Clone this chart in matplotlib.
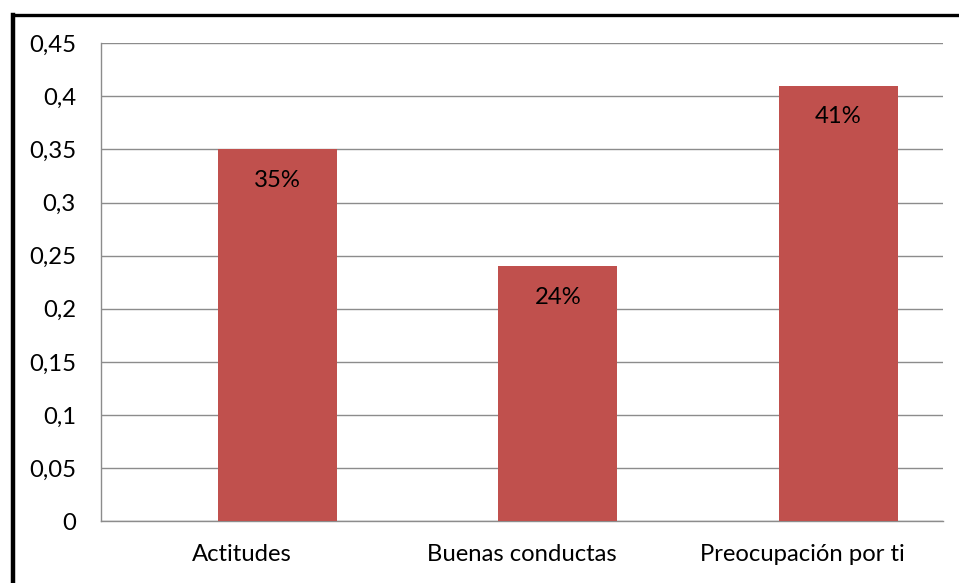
import matplotlib.pyplot as plt
from matplotlib.lines import Line2D
from matplotlib.ticker import FuncFormatter
import numpy as np

categories = ["Actitudes", "Buenas conductas", "Preocupación por ti"]
values = [0.35, 0.24, 0.41]
labels = ["35%", "24%", "41%"]
y_ticks = [0, 0.05, 0.1, 0.15, 0.2, 0.25, 0.3, 0.35, 0.4, 0.45]

BAR_COLOR = "#C0504D"
GRID_COLOR = "#8C8C8C"
FS = 17.2

plt.rcParams["font.family"] = ["Lato", "DejaVu Sans"]

fig = plt.figure(figsize=(9.59, 5.83), dpi=100)
ax = fig.add_axes([0.1053, 0.1055, 0.8780, 0.8207])

x = np.arange(len(categories))
# bars sit slightly right of the category centre, as in the original
bars = ax.bar(x + 0.128, values, width=0.424, color=BAR_COLOR, zorder=3)

for bar, lab in zip(bars, labels):
    ax.annotate(lab, (bar.get_x() + bar.get_width() / 2, bar.get_height()),
                xytext=(0, -31), textcoords="offset pixels",
                ha="center", va="center", fontsize=FS, color="black", zorder=4)

ax.set_xlim(-0.5, 2.5)
ax.set_ylim(0, 0.45)
ax.set_xticks(x)
ax.set_xticklabels(categories, fontsize=FS)
ax.set_yticks(y_ticks)
ax.yaxis.set_major_formatter(FuncFormatter(lambda v, p: f"{v:g}".replace(".", ",")))
ax.tick_params(axis="y", length=0, pad=18, labelsize=FS)
ax.tick_params(axis="x", length=0, pad=16)

ax.grid(axis="y", color=GRID_COLOR, linewidth=1, zorder=0)
for side in ["top", "right"]:
    ax.spines[side].set_visible(False)
for side in ["left", "bottom"]:
    ax.spines[side].set_color(GRID_COLOR)
    ax.spines[side].set_linewidth(1)

# black frame on the left and top edges
fig.add_artist(Line2D([12.5 / 959, 12.5 / 959], [0, 1 - 14.5 / 583],
                      color="black", linewidth=3.2, solid_capstyle="projecting"))
fig.add_artist(Line2D([12.5 / 959, 1], [1 - 14.5 / 583, 1 - 14.5 / 583],
                      color="black", linewidth=2.4, solid_capstyle="projecting"))

fig.savefig("out.png", dpi=100)
